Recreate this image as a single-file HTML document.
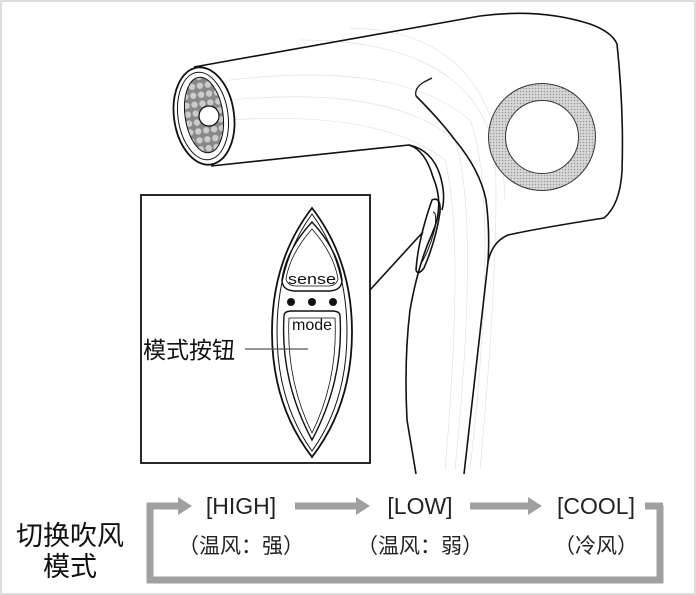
<!DOCTYPE html>
<html><head><meta charset="utf-8"><style>
html,body{margin:0;padding:0;background:#fff}
svg{display:block}
text{font-family:"Liberation Sans","Noto Sans CJK SC",sans-serif}
</style></head><body>
<svg width="696" height="595" viewBox="0 0 696 595" xmlns="http://www.w3.org/2000/svg">
<defs>
<pattern id="dots" width="3" height="3" patternUnits="userSpaceOnUse"><rect width="3" height="3" fill="#d8d8d8"/><circle cx="1.5" cy="1.5" r="0.8" fill="#999"/></pattern>
<pattern id="hex" width="8" height="9" patternUnits="userSpaceOnUse"><rect width="8" height="9" fill="#888"/><circle cx="4" cy="4.5" r="3.2" fill="#ccc"/></pattern>
</defs>
<rect x="1" y="1" width="694" height="593" fill="#fff" stroke="#dcdcdc" stroke-width="2"/>
<g fill="none" stroke="#e2e2e2" stroke-width="0.7">
<path d="M230 80 Q400 60 470 120 Q500 200 470 470"/>
<path d="M230 100 Q390 85 455 140 Q480 220 455 470"/>
<path d="M230 120 Q380 110 445 160 Q465 240 445 470"/>
<path d="M300 40 Q470 40 495 150 Q500 250 480 470"/>
<path d="M350 28 Q500 30 505 200"/>
</g>
<g fill="none" stroke="#111" stroke-width="1.6" stroke-linejoin="round">
<path d="M194 67 L480 16 Q540 8 590 24 Q612 32 617 44 Q624 110 622 171 Q620 205 604 218 Q540 228 508 235 Q492 242 488 262 L464 474"/>
<path d="M211 166 L409 145 Q425 150 433 177 Q445 205 432 234 Q418 265 410 310 Q404 360 407 420 L416 474"/>
<path d="M416 96 Q414 88 424 82 L432 78" stroke-width="1.3"/>
<path d="M416 96 Q440 120 455 140 Q480 170 486 200 Q490 230 488 262"/>
<path d="M409 145 Q432 150 440 175 Q446 195 442 210"/>
<path d="M432 200 Q441 196 440 212 Q436 240 424 268 Q418 276 416 270 Q418 240 432 200 Z"/>
<path d="M433 212 Q437 212 435 228 Q430 248 422 262" stroke-width="1"/>
</g>
<line x1="370" y1="290" x2="423" y2="232" stroke="#111" stroke-width="1.6"/>
<ellipse cx="204" cy="116" rx="30" ry="49" transform="rotate(-8 204 116)" fill="#fff" stroke="#111" stroke-width="1.8"/>
<ellipse cx="203" cy="116" rx="25" ry="44" transform="rotate(-8 203 116)" fill="none" stroke="#111" stroke-width="1"/>
<ellipse cx="204" cy="115" rx="19" ry="38" transform="rotate(-8 204 115)" fill="url(#hex)" stroke="#111" stroke-width="1"/>
<circle cx="209" cy="116" r="10" fill="#fff" stroke="#111" stroke-width="1.2"/>
<circle cx="542" cy="137" r="45" fill="none" stroke="url(#dots)" stroke-width="17"/>
<circle cx="542" cy="137" r="53.5" fill="none" stroke="#333" stroke-width="1"/>
<circle cx="542" cy="137" r="36.5" fill="none" stroke="#333" stroke-width="1"/>
<rect x="141" y="195" width="229" height="268" fill="#fff" stroke="#111" stroke-width="1.8"/>
<g fill="none" stroke="#111">
<path d="M312 208 Q352 260 352 332 Q352 405 312 457 Q272 405 272 332 Q272 260 312 208 Z" stroke-width="1.8"/>
<path d="M312 214 Q347 262 347 332 Q347 402 312 451 Q277 402 277 332 Q277 262 312 214 Z" stroke-width="1"/>
<path d="M312 222 Q338 250 342 280 Q342 290 330 291 L294 291 Q282 290 282 280 Q286 250 312 222 Z" stroke-width="1.4"/>
<path d="M312 229 Q334 254 338 279 Q336 286 328 286 L296 286 Q288 286 286 279 Q290 254 312 229 Z" stroke-width="0.8"/>
<path d="M284 316 Q284 311 292 311 L332 311 Q340 311 340 316 Q344 380 312 440 Q280 380 284 316 Z" stroke-width="1.4"/>
<path d="M289 318 L335 318 Q338 380 312 433 Q286 380 289 318 Z" stroke-width="0.8"/>
</g>
<text x="312" y="284" font-size="15" text-anchor="middle" fill="#111" textLength="48" lengthAdjust="spacingAndGlyphs">sense</text>
<circle cx="291" cy="302" r="4" fill="#111"/><circle cx="312" cy="302" r="4" fill="#111"/><circle cx="333" cy="302" r="4" fill="#111"/>
<text x="312" y="330" font-size="16" text-anchor="middle" fill="#111">mode</text>
<text x="143" y="358" font-size="23" fill="#111">模式按钮</text>
<line x1="245" y1="349" x2="308" y2="349" stroke="#555" stroke-width="1.2"/>
<g stroke="#a0a0a0" stroke-width="7" fill="none">
<path d="M660 505 L660 580 L150 580 L150 506 L180 506"/>
<line x1="295" y1="506" x2="358" y2="506"/>
<line x1="470" y1="506" x2="530" y2="506"/>
<line x1="645" y1="506" x2="663" y2="506"/>
</g>
<g fill="#a0a0a0">
<polygon points="178,497 192,506 178,515"/>
<polygon points="356,497 370,506 356,515"/>
<polygon points="528,497 542,506 528,515"/>
</g>
<g fill="#222" font-size="23" text-anchor="middle">
<text x="241" y="514">[HIGH]</text>
<text x="420" y="514">[LOW]</text>
<text x="596" y="514">[COOL]</text>
</g>
<g fill="#222" font-size="21" text-anchor="middle">
<text x="241" y="553">（温风：强）</text>
<text x="420" y="553">（温风：弱）</text>
<text x="596" y="553">（冷风）</text>
</g>
<g fill="#111" font-size="27" text-anchor="middle">
<text x="70" y="545">切换吹风</text>
<text x="70" y="576">模式</text>
</g>
</svg>
</body></html>
